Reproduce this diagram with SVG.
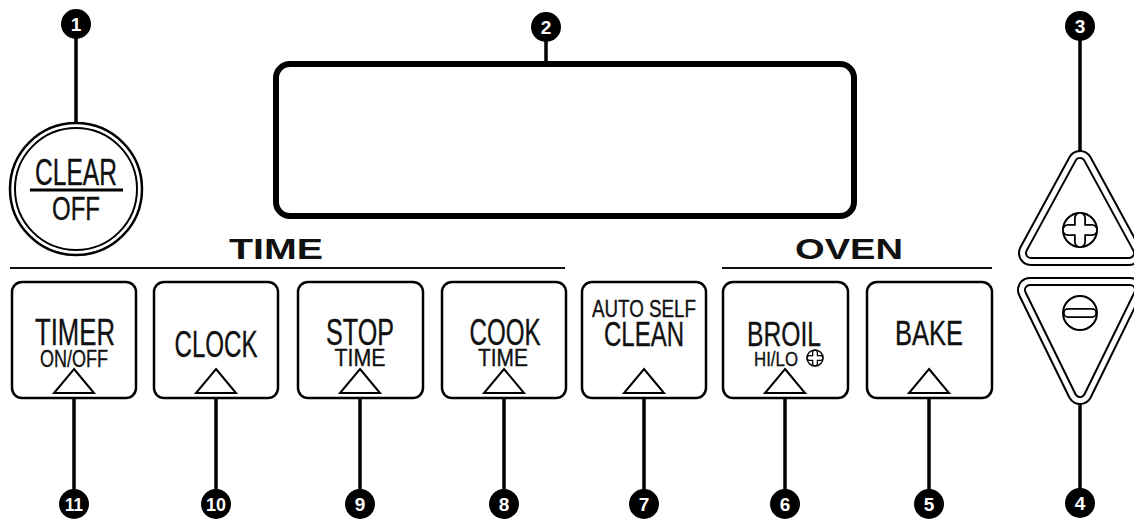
<svg xmlns="http://www.w3.org/2000/svg" width="1134" height="519" viewBox="0 0 1134 519">
<defs>
<style>
.badge circle{fill:#000}
.badge text{fill:#fff;font-family:"Liberation Sans",Arial,sans-serif;font-weight:bold;font-size:19px;text-anchor:middle}
.btn{fill:#fff;stroke:#000;stroke-width:2.5}
.tri{fill:none;stroke:#000;stroke-width:2;stroke-linejoin:miter}
.lbl{font-family:"Liberation Sans Narrow","Liberation Sans",Arial,sans-serif;fill:#111;stroke:#111;stroke-width:0.35;text-anchor:middle}
.hdr{font-family:"Liberation Sans",Arial,sans-serif;font-weight:bold;font-size:29px;fill:#111;text-anchor:middle}
.conn line{stroke:#000;stroke-width:3.5}
.rule{stroke:#111;stroke-width:2}
</style>
</defs>
<rect width="1134" height="519" fill="#fff"/>

<g class="conn">
<line x1="76" y1="38" x2="76" y2="124"/>
<line x1="546" y1="40" x2="546" y2="62"/>
<line x1="1080" y1="40" x2="1080" y2="152"/>
<line x1="1080" y1="403" x2="1080" y2="490"/>
<line x1="74" y1="398" x2="74" y2="490"/>
<line x1="216" y1="398" x2="216" y2="490"/>
<line x1="360" y1="398" x2="360" y2="490"/>
<line x1="504" y1="398" x2="504" y2="490"/>
<line x1="644" y1="398" x2="644" y2="490"/>
<line x1="785" y1="398" x2="785" y2="490"/>
<line x1="929" y1="398" x2="929" y2="490"/>
</g>

<g id="clear-off">
<circle cx="76" cy="189" r="66" fill="#fff" stroke="#000" stroke-width="2.5"/>
<circle cx="76" cy="189" r="61" fill="none" stroke="#000" stroke-width="2"/>
<text class="lbl" x="76" y="185" font-size="37" textLength="82" lengthAdjust="spacingAndGlyphs">CLEAR</text>
<line x1="30" y1="190" x2="123" y2="190" stroke="#000" stroke-width="3"/>
<text class="lbl" x="76" y="220" font-size="34" textLength="48" lengthAdjust="spacingAndGlyphs">OFF</text>
</g>

<g id="display">
<rect x="276" y="64" width="578" height="152" rx="14" fill="#fff" stroke="#000" stroke-width="6"/>
</g>

<g id="headers">
<text class="hdr" x="276" y="259" textLength="94" lengthAdjust="spacingAndGlyphs">TIME</text>
<line class="rule" x1="10" y1="268" x2="565" y2="268"/>
<text class="hdr" x="849" y="259" textLength="108" lengthAdjust="spacingAndGlyphs">OVEN</text>
<line class="rule" x1="722" y1="268" x2="992" y2="268"/>
</g>

<g id="timer">
<rect class="btn" x="12" y="282" width="124" height="116" rx="10"/>
<text class="lbl" x="75" y="345" font-size="36" textLength="80" lengthAdjust="spacingAndGlyphs">TIMER</text>
<text class="lbl" x="74" y="367" font-size="24" textLength="68" lengthAdjust="spacingAndGlyphs">ON/OFF</text>
<polygon class="tri" points="74,369 94,393 54,393"/>
</g>

<g id="clock">
<rect class="btn" x="154" y="282" width="124" height="116" rx="10"/>
<text class="lbl" x="216" y="357" font-size="37" textLength="83" lengthAdjust="spacingAndGlyphs">CLOCK</text>
<polygon class="tri" points="216,369 236,393 196,393"/>
</g>

<g id="stop-time">
<rect class="btn" x="298" y="282" width="125" height="116" rx="10"/>
<text class="lbl" x="360" y="345" font-size="36" textLength="68" lengthAdjust="spacingAndGlyphs">STOP</text>
<text class="lbl" x="360" y="366" font-size="24" textLength="51" lengthAdjust="spacingAndGlyphs">TIME</text>
<polygon class="tri" points="360,369 380,393 340,393"/>
</g>

<g id="cook-time">
<rect class="btn" x="442" y="282" width="124" height="116" rx="10"/>
<text class="lbl" x="505" y="345" font-size="36" textLength="71" lengthAdjust="spacingAndGlyphs">COOK</text>
<text class="lbl" x="503" y="366" font-size="24" textLength="50" lengthAdjust="spacingAndGlyphs">TIME</text>
<polygon class="tri" points="504,369 524,393 484,393"/>
</g>

<g id="auto-self-clean">
<rect class="btn" x="582" y="282" width="124" height="116" rx="10"/>
<text class="lbl" x="644" y="317" font-size="23" textLength="104" lengthAdjust="spacingAndGlyphs">AUTO SELF</text>
<text class="lbl" x="644" y="346" font-size="35" textLength="80" lengthAdjust="spacingAndGlyphs">CLEAN</text>
<polygon class="tri" points="644,369 664,393 624,393"/>
</g>

<g id="broil">
<rect class="btn" x="723" y="282" width="125" height="116" rx="10"/>
<text class="lbl" x="784" y="346" font-size="35" textLength="74" lengthAdjust="spacingAndGlyphs">BROIL</text>
<text class="lbl" x="776" y="366" font-size="21" textLength="44" lengthAdjust="spacingAndGlyphs">HI/LO</text>
<circle cx="815" cy="358" r="8" fill="#fff" stroke="#000" stroke-width="1.5"/>
<path d="M809.5,358 H820.5 M815,352.5 V363.5" stroke="#000" stroke-width="6" stroke-linecap="round" fill="none"/>
<path d="M809.5,358 H820.5 M815,352.5 V363.5" stroke="#fff" stroke-width="3.5" stroke-linecap="round" fill="none"/>
<polygon class="tri" points="785,369 805,393 765,393"/>
</g>

<g id="bake">
<rect class="btn" x="867" y="282" width="125" height="116" rx="10"/>
<text class="lbl" x="929" y="345" font-size="35" textLength="68" lengthAdjust="spacingAndGlyphs">BAKE</text>
<polygon class="tri" points="929,369 949,393 909,393"/>
</g>

<g id="plus">
<polygon points="1080,163 1129,253 1031,253" fill="none" stroke="#000" stroke-width="26" stroke-linejoin="round"/>
<polygon points="1080,163 1129,253 1031,253" fill="none" stroke="#fff" stroke-width="22" stroke-linejoin="round"/>
<polygon points="1080,163 1129,253 1031,253" fill="none" stroke="#000" stroke-width="12" stroke-linejoin="round"/>
<polygon points="1080,163 1129,253 1031,253" fill="none" stroke="#fff" stroke-width="8" stroke-linejoin="round"/>
<polygon points="1080,163 1129,253 1031,253" fill="#fff"/>
<circle cx="1080" cy="230" r="17" fill="#fff" stroke="#000" stroke-width="2"/>
<path d="M1068,230 H1092 M1080,218 V242" stroke="#000" stroke-width="12" stroke-linecap="round" fill="none"/>
<path d="M1068,230 H1092 M1080,218 V242" stroke="#fff" stroke-width="8.5" stroke-linecap="round" fill="none"/>
</g>

<g id="minus">
<polygon points="1030,290 1130,290 1080,392" fill="none" stroke="#000" stroke-width="26" stroke-linejoin="round"/>
<polygon points="1030,290 1130,290 1080,392" fill="none" stroke="#fff" stroke-width="22" stroke-linejoin="round"/>
<polygon points="1030,290 1130,290 1080,392" fill="none" stroke="#000" stroke-width="12" stroke-linejoin="round"/>
<polygon points="1030,290 1130,290 1080,392" fill="none" stroke="#fff" stroke-width="8" stroke-linejoin="round"/>
<polygon points="1030,290 1130,290 1080,392" fill="#fff"/>
<circle cx="1080" cy="313" r="17" fill="#fff" stroke="#000" stroke-width="2"/>
<path d="M1068,313 H1092" stroke="#000" stroke-width="10" stroke-linecap="round" fill="none"/>
<path d="M1068,313 H1092" stroke="#fff" stroke-width="6.5" stroke-linecap="round" fill="none"/>
</g>

<g id="badge-1" class="badge"><circle cx="76" cy="24" r="15"/><text x="76" y="31">1</text></g>
<g id="badge-2" class="badge"><circle cx="546" cy="27" r="15"/><text x="546" y="34">2</text></g>
<g id="badge-3" class="badge"><circle cx="1080" cy="26" r="15"/><text x="1080" y="33">3</text></g>
<g id="badge-4" class="badge"><circle cx="1080" cy="503" r="15"/><text x="1080" y="510">4</text></g>
<g id="badge-5" class="badge"><circle cx="929" cy="504" r="15"/><text x="929" y="511">5</text></g>
<g id="badge-6" class="badge"><circle cx="785" cy="504" r="15"/><text x="785" y="511">6</text></g>
<g id="badge-7" class="badge"><circle cx="644" cy="504" r="15"/><text x="644" y="511">7</text></g>
<g id="badge-8" class="badge"><circle cx="504" cy="504" r="15"/><text x="504" y="511">8</text></g>
<g id="badge-9" class="badge"><circle cx="360" cy="504" r="15"/><text x="360" y="511">9</text></g>
<g id="badge-10" class="badge"><circle cx="216" cy="504" r="15"/><text x="216" y="511" textLength="20" lengthAdjust="spacingAndGlyphs">10</text></g>
<g id="badge-11" class="badge"><circle cx="74" cy="504" r="15"/><text x="74" y="511" textLength="18" lengthAdjust="spacingAndGlyphs">11</text></g>
</svg>
